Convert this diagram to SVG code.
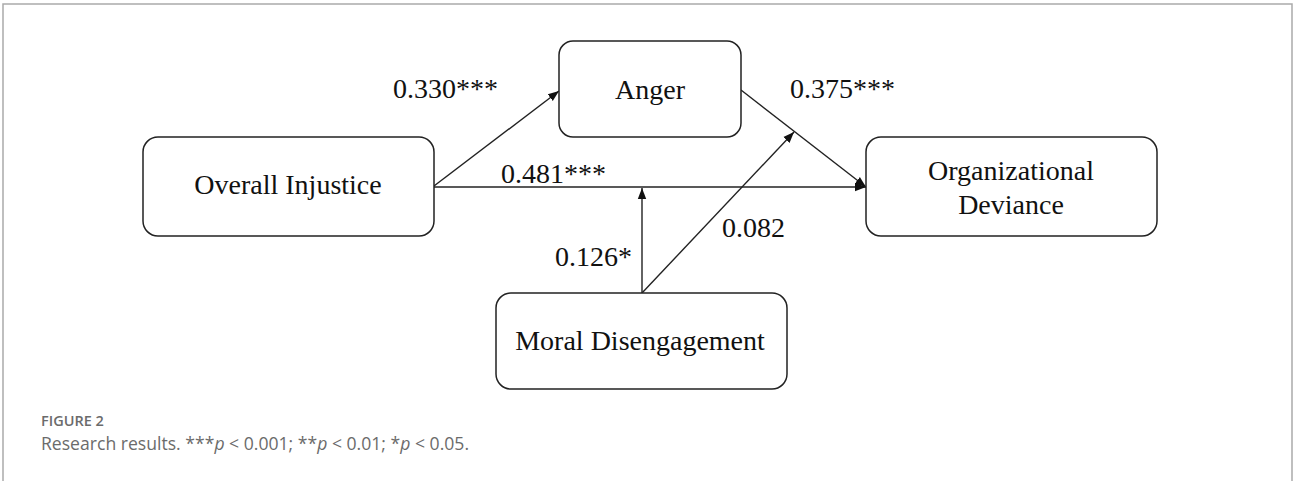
<svg xmlns="http://www.w3.org/2000/svg" width="1293" height="481" viewBox="0 0 1293 481">
  <style>
    .box { fill: #ffffff; stroke: #222222; stroke-width: 1.5; }
    .lbl { font-family: "Liberation Serif", "Times New Roman", serif; font-size: 28px; fill: #111111; }
    .num { font-family: "Liberation Serif", "Times New Roman", serif; font-size: 28px; fill: #111111; }
    .edge { stroke: #222222; stroke-width: 1.4; fill: none; marker-end: url(#arr); }
    .cap1 { font-family: "Open Sans", "Liberation Sans", sans-serif; font-size: 14.5px; font-weight: 600; fill: #6b6b6b; }
    .cap2 { font-family: "Open Sans", "Liberation Sans", sans-serif; font-size: 17.6px; fill: #6b6b6b; }
  </style>
  <defs>
    <marker id="arr" markerWidth="12" markerHeight="10" refX="11" refY="5" orient="auto" markerUnits="userSpaceOnUse">
      <path d="M0,0.8 L11,5 L0,9.2 Z" fill="#111111"/>
    </marker>
  </defs>
  <rect x="0" y="0" width="1293" height="481" fill="#ffffff"/>
  <g id="frame" stroke="#aaaaaa" stroke-width="1.5" fill="none">
    <path d="M3,481 L3,4 L1292,4 L1292,481"/>
  </g>

  <g id="connectors">
    <line class="edge" x1="434" y1="186" x2="559" y2="91"/>
    <line class="edge" x1="434" y1="187" x2="866" y2="187"/>
    <line class="edge" x1="741" y1="90" x2="866" y2="187"/>
    <line class="edge" x1="642" y1="293" x2="642" y2="188"/>
    <line class="edge" x1="642" y1="293" x2="794" y2="132"/>
    <text class="num" x="393" y="98">0.330***</text>
    <text class="num" x="790" y="98">0.375***</text>
    <text class="num" x="501" y="183">0.481***</text>
    <text class="num" x="555" y="266">0.126*</text>
    <text class="num" x="722" y="237">0.082</text>
  </g>

  <g id="node-anger">
    <rect class="box" x="559" y="41" width="182" height="96" rx="14"/>
    <text class="lbl" x="650" y="99" text-anchor="middle">Anger</text>
  </g>
  <g id="node-injustice">
    <rect class="box" x="143" y="137" width="291" height="99" rx="15"/>
    <text class="lbl" x="288" y="194" text-anchor="middle">Overall Injustice</text>
  </g>
  <g id="node-deviance">
    <rect class="box" x="866" y="137" width="291" height="99" rx="15"/>
    <text class="lbl" x="1011" y="180" text-anchor="middle">Organizational</text>
    <text class="lbl" x="1011" y="214" text-anchor="middle">Deviance</text>
  </g>
  <g id="node-moral">
    <rect class="box" x="496" y="293" width="291" height="96" rx="15"/>
    <text class="lbl" x="640" y="350" text-anchor="middle">Moral Disengagement</text>
  </g>

  <g id="caption">
    <text class="cap1" x="41" y="426">FIGURE 2</text>
    <text class="cap2" x="41" y="450">Research results. ***<tspan font-style="italic">p</tspan> &lt; 0.001; **<tspan font-style="italic">p</tspan> &lt; 0.01; *<tspan font-style="italic">p</tspan> &lt; 0.05.</text>
  </g>
</svg>
